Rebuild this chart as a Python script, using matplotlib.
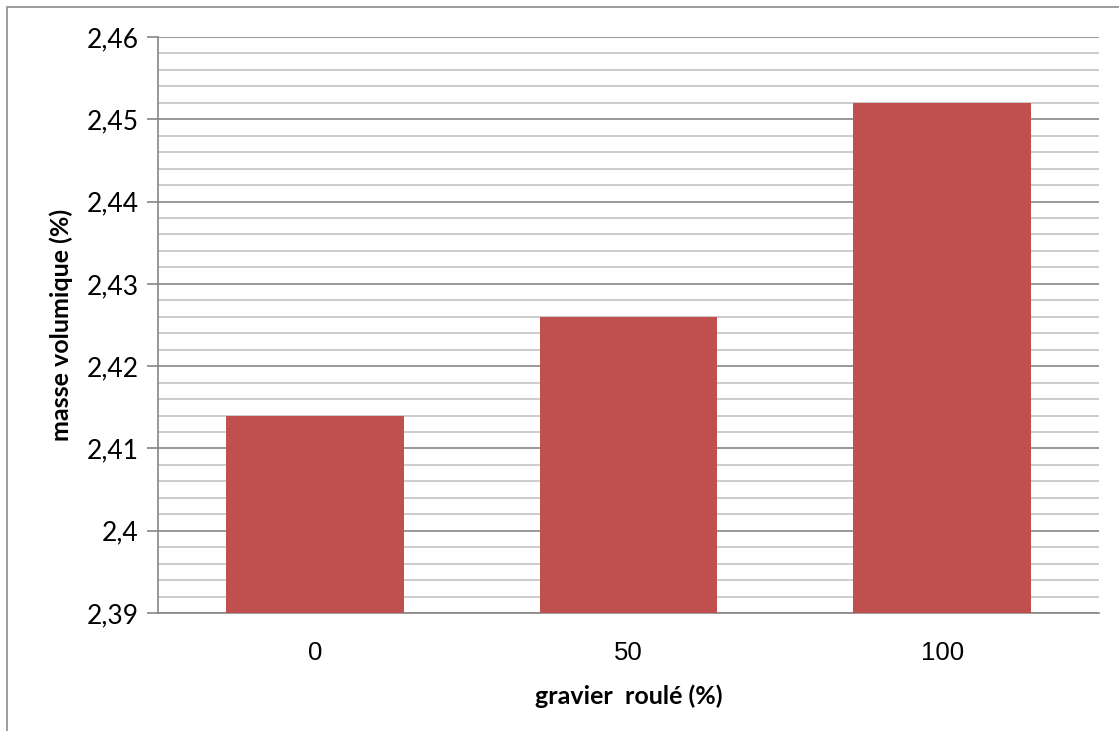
#!/usr/bin/env python3
# -*- coding: utf-8 -*-
import matplotlib
matplotlib.use("Agg")
import matplotlib.pyplot as plt
import numpy as np
from matplotlib.patches import Rectangle
from matplotlib.ticker import MultipleLocator, FuncFormatter

# gravier roule (%) -> masse volumique
CATEGORIES = ["0", "50", "100"]
MASSE_VOLUMIQUE = [2.414, 2.426, 2.452]

Y_MIN, Y_MAX = 2.39, 2.46
BAR_COLOR = "#C0504D"


def comma_fmt(v, _pos):
    s = ("%.2f" % v).rstrip("0").rstrip(".")
    return s.replace(".", ",")


def main() -> None:
    fig = plt.figure(figsize=(11.19, 7.31), dpi=100)
    ax = fig.add_axes([0.1412, 0.1614, 0.9821 - 0.1412, 0.9494 - 0.1614])

    # outer chart border (only top and left are visible)
    fig.patches.append(Rectangle((7 / 1119, -0.1), 1.2, 1.1 - 7 / 731,
                                 transform=fig.transFigure, fill=False,
                                 edgecolor="#8c8c8c", linewidth=1.2, zorder=0))

    x = np.arange(len(CATEGORIES))
    ax.bar(x, np.array(MASSE_VOLUMIQUE) - Y_MIN, bottom=Y_MIN, width=0.567,
           color=BAR_COLOR, zorder=3)

    ax.set_xlim(-0.5, len(CATEGORIES) - 0.5)
    ax.set_ylim(Y_MIN, Y_MAX)
    ax.yaxis.set_major_locator(MultipleLocator(0.01))
    ax.yaxis.set_minor_locator(MultipleLocator(0.002))
    ax.yaxis.set_major_formatter(FuncFormatter(comma_fmt))

    ax.grid(which="major", axis="y", color="#868686", linewidth=1.2, zorder=1)
    ax.grid(which="minor", axis="y", color="#c4c4c4", linewidth=1.2, zorder=1)

    for side in ("top", "right"):
        ax.spines[side].set_visible(False)
    for side in ("left", "bottom"):
        ax.spines[side].set_color("#868686")
        ax.spines[side].set_linewidth(1.2)

    ax.tick_params(axis="y", which="major", length=8, width=1.2, color="#868686",
                   labelsize=19, pad=6)
    ax.tick_params(axis="y", which="minor", length=0)
    ax.tick_params(axis="x", length=0, labelsize=18.5, pad=20)
    for lab in ax.get_yticklabels():
        lab.set_family("Lato")

    ax.set_xticks(x)
    ax.set_xticklabels(CATEGORIES, family="Liberation Sans")

    ax.set_xlabel("gravier  roulé (%)", family="Lato", fontweight="bold",
                  fontsize=18, labelpad=14)
    ax.set_ylabel("masse volumique (%)", family="Lato", fontweight="bold",
                  fontsize=18, labelpad=10)

    fig.savefig("out.png", dpi=100)


if __name__ == "__main__":
    main()
